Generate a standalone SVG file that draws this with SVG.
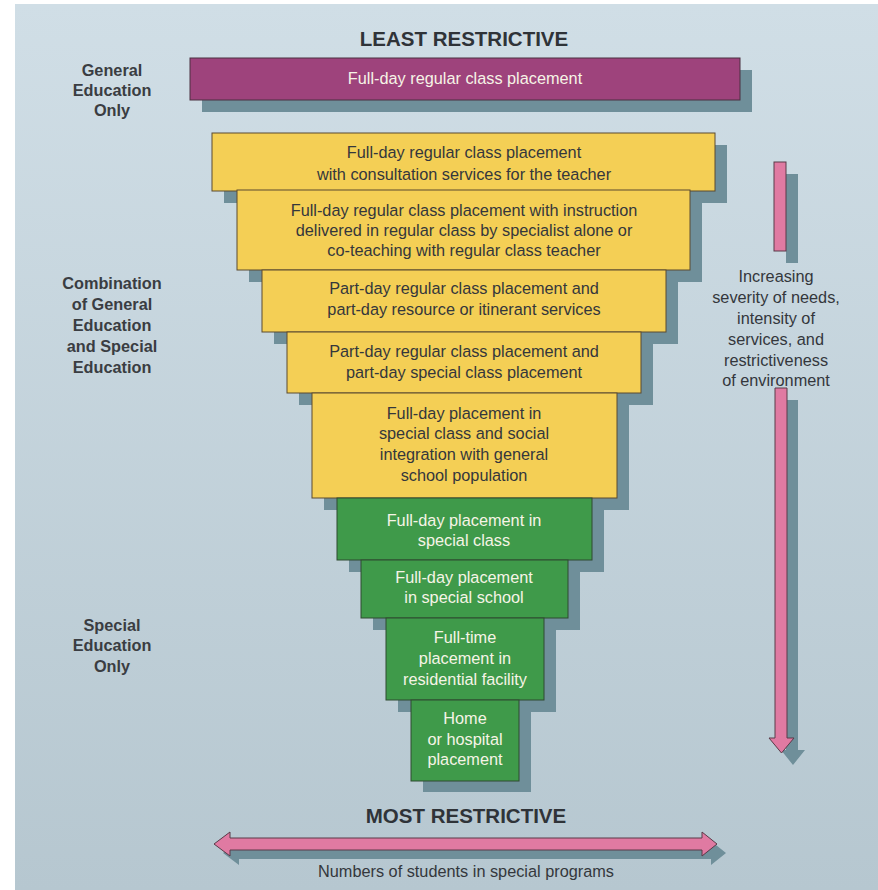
<svg xmlns="http://www.w3.org/2000/svg" width="878" height="890" viewBox="0 0 878 890">
<defs>
<linearGradient id="bg" x1="0" y1="0" x2="0" y2="1">
<stop offset="0" stop-color="#d0dee6"/>
<stop offset="1" stop-color="#b6c7d0"/>
</linearGradient>
</defs>
<style>
.sh{fill:#6f8f9a}
.pur{fill:#9e437c;stroke:#4a3040;stroke-width:1}
.yel{fill:#f4cf55;stroke:#5a4a30;stroke-width:1}
.grn{fill:#3f9a4a;stroke:#2f4a30;stroke-width:1}
.pink{fill:#e07aa2;stroke:#5a3a48;stroke-width:1}
.t{font-family:"Liberation Sans",Arial,sans-serif;font-size:16.3px;fill:#34373c;text-anchor:middle}
.tw{font-family:"Liberation Sans",Arial,sans-serif;font-size:16.3px;fill:#f6f4e6;text-anchor:middle}
.lbl{font-family:"Liberation Sans",Arial,sans-serif;font-size:16.3px;font-weight:bold;fill:#3a3d42;text-anchor:middle}
.hdr{font-family:"Liberation Sans",Arial,sans-serif;font-size:20.5px;font-weight:bold;fill:#2f3338;text-anchor:middle}
</style>
<rect x="0" y="0" width="878" height="890" fill="#ffffff"/>
<rect x="15" y="4" width="863" height="886" fill="url(#bg)"/>

<g id="shadows">
<rect class="sh" x="202" y="70" width="550" height="42"/>
<rect class="sh" x="224" y="145" width="503" height="58"/>
<rect class="sh" x="249" y="202" width="453" height="80"/>
<rect class="sh" x="274" y="282" width="404" height="62"/>
<rect class="sh" x="299" y="344" width="354" height="61"/>
<rect class="sh" x="324" y="405" width="305" height="105"/>
<rect class="sh" x="349" y="510" width="255" height="62"/>
<rect class="sh" x="373" y="572" width="207" height="58"/>
<rect class="sh" x="398" y="630" width="158" height="82"/>
<rect class="sh" x="423" y="712" width="108" height="80"/>
</g>

<text class="hdr" x="464" y="46">LEAST RESTRICTIVE</text>

<g id="n0">
<rect class="pur" x="190" y="58" width="550" height="42"/>
<text class="tw" x="465" y="84">Full-day regular class placement</text>
</g>
<g id="n1">
<rect class="yel" x="212" y="133" width="503" height="58"/>
<text class="t" x="464" y="158">Full-day regular class placement</text>
<text class="t" x="464" y="180">with consultation services for the teacher</text>
</g>
<g id="n2">
<rect class="yel" x="237" y="190" width="453" height="80"/>
<text class="t" x="464" y="216">Full-day regular class placement with instruction</text>
<text class="t" x="464" y="236">delivered in regular class by specialist alone or</text>
<text class="t" x="464" y="256">co-teaching with regular class teacher</text>
</g>
<g id="n3">
<rect class="yel" x="262" y="270" width="404" height="62"/>
<text class="t" x="464" y="294">Part-day regular class placement and</text>
<text class="t" x="464" y="315">part-day resource or itinerant services</text>
</g>
<g id="n4">
<rect class="yel" x="287" y="332" width="354" height="61"/>
<text class="t" x="464" y="357">Part-day regular class placement and</text>
<text class="t" x="464" y="378">part-day special class placement</text>
</g>
<g id="n5">
<rect class="yel" x="312" y="393" width="305" height="105"/>
<text class="t" x="464" y="419">Full-day placement in</text>
<text class="t" x="464" y="439">special class and social</text>
<text class="t" x="464" y="460">integration with general</text>
<text class="t" x="464" y="481">school population</text>
</g>
<g id="n6">
<rect class="grn" x="337" y="498" width="255" height="62"/>
<text class="tw" x="464" y="526">Full-day placement in</text>
<text class="tw" x="464" y="546">special class</text>
</g>
<g id="n7">
<rect class="grn" x="361" y="560" width="207" height="58"/>
<text class="tw" x="464" y="583">Full-day placement</text>
<text class="tw" x="464" y="603">in special school</text>
</g>
<g id="n8">
<rect class="grn" x="386" y="618" width="158" height="82"/>
<text class="tw" x="465" y="643">Full-time</text>
<text class="tw" x="465" y="664">placement in</text>
<text class="tw" x="465" y="685">residential facility</text>
</g>
<g id="n9">
<rect class="grn" x="411" y="700" width="108" height="81"/>
<text class="tw" x="465" y="724">Home</text>
<text class="tw" x="465" y="745">or hospital</text>
<text class="tw" x="465" y="765">placement</text>
</g>

<g id="labels">
<text class="lbl" x="112" y="76">General</text>
<text class="lbl" x="112" y="96">Education</text>
<text class="lbl" x="112" y="116">Only</text>
<text class="lbl" x="112" y="289">Combination</text>
<text class="lbl" x="112" y="310">of General</text>
<text class="lbl" x="112" y="331">Education</text>
<text class="lbl" x="112" y="352">and Special</text>
<text class="lbl" x="112" y="373">Education</text>
<text class="lbl" x="112" y="631">Special</text>
<text class="lbl" x="112" y="651">Education</text>
<text class="lbl" x="112" y="672">Only</text>
</g>

<g id="connectors">
<rect class="sh" x="786" y="174" width="12" height="89"/>
<rect class="pink" x="774" y="162" width="12" height="89"/>
<path class="sh" d="M786,400 H798 V750 H805 L793,765 L781,750 H786 Z"/>
<path class="pink" d="M775,388 H787 V738 H794 L781.5,753 L769,738 H775 Z"/>
<path class="sh" d="M223,853 L239,841 V847 H711 V841 L726,853 L711,865 V859 H239 V865 Z"/>
<path class="pink" d="M214,844 L230,832 V838 H702 V832 L717,844 L702,856 V850 H230 V856 Z"/>
</g>

<g id="side-text">
<text class="t" x="776" y="282">Increasing</text>
<text class="t" x="776" y="303">severity of needs,</text>
<text class="t" x="776" y="324">intensity of</text>
<text class="t" x="776" y="345">services, and</text>
<text class="t" x="776" y="366">restrictiveness</text>
<text class="t" x="776" y="386">of environment</text>
</g>

<text class="hdr" x="466" y="823">MOST RESTRICTIVE</text>
<text class="t" x="466" y="877">Numbers of students in special programs</text>
</svg>
